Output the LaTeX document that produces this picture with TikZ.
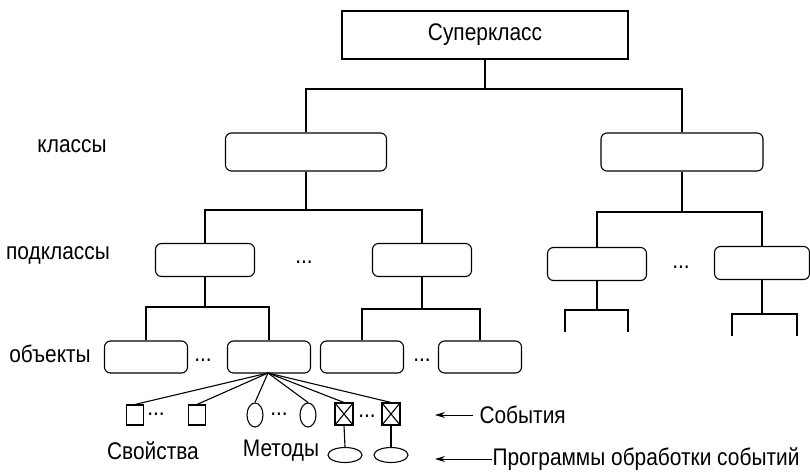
\documentclass[tikz,border=0pt]{standalone}
\usepackage{fontspec}
\setmainfont[FakeStretch=0.87]{Liberation Sans}
\usetikzlibrary{arrows.meta, positioning, shapes.geometric}
\tikzstyle{hier}=[x=1pt, y=-1pt, line width=1.1pt, font=\fontsize{24}{28}\selectfont, >={Stealth[length=10pt, width=6pt]}]
\tikzstyle{superbox}=[draw, rectangle, minimum width=286pt, minimum height=48pt, inner sep=0pt]
\tikzstyle{box}=[draw, rounded corners=6pt, minimum width=#1, minimum height=38pt, inner sep=0pt]
\tikzstyle{sbox}=[draw, rounded corners=6pt, minimum width=99pt, minimum height=33pt, inner sep=0pt]
\tikzstyle{obox}=[draw, rounded corners=6pt, minimum width=83pt, minimum height=32pt, inner sep=0pt]
\tikzstyle{prop}=[draw, rectangle, minimum width=17pt, minimum height=20pt, inner sep=0pt]
\tikzstyle{meth}=[draw, ellipse, minimum width=16pt, minimum height=24pt, inner sep=0pt]
\tikzstyle{event}=[draw, rectangle, minimum width=18pt, minimum height=22pt, inner sep=0pt,
  path picture={\draw (path picture bounding box.north west) -- (path picture bounding box.south east)
                      (path picture bounding box.north east) -- (path picture bounding box.south west);}]
\tikzstyle{handler}=[draw, ellipse, minimum width=34pt, minimum height=15pt, inner sep=0pt]
\tikzstyle{dots}=[inner sep=0pt]

\begin{document}
\begin{tikzpicture}[hier]
  \useasboundingbox (0,0) rectangle (810,471);

  \node[superbox] (sup) at (485,35) {Суперкласс};

  \node[box=161pt] (c1) at (306,152) {};
  \node[box=162pt] (c2) at (682,152) {};

  \node[sbox] (s1) at (205,260) {};
  \node[sbox] (s2) at (422,260) {};
  \node[sbox] (s3) at (597,264) {};
  \node[sbox, minimum width=95pt] (s4) at (762,263) {};

  \node[obox] (o1) at (146,357) {};
  \node[obox] (o2) at (269,357) {};
  \node[obox] (o3) at (362,357) {};
  \node[obox] (o4) at (480,357) {};

  \node[dots] (d1) at (304,262) {...};
  \node[dots] (d2) at (681,267) {...};
  \node[dots] (d3) at (203,360) {...};
  \node[dots] (d4) at (422,360) {...};

  \node[prop] (p1) at (135,415) {};
  \node[dots] (d5) at (156,414) {...};
  \node[prop] (p2) at (197,415) {};
  \node[meth] (m1) at (255,415) {};
  \node[dots] (d6) at (279,414) {...};
  \node[meth] (m2) at (308,415) {};
  \node[event] (e1) at (344,414) {};
  \node[dots] (d7) at (367,416) {...};
  \node[event] (e2) at (391,414) {};
  \node[handler] (h1) at (345,455) {};
  \node[handler] (h2) at (391,455) {};

  \node (lcls) at (72,146) {классы};
  \node (lsub) at (58,255) {подклассы};
  \node (lobj) at (50,354) {объекты};
  \node (lprop) at (153,451) {Свойства};
  \node (lmeth) at (281,451) {Методы};
  \node[anchor=west, inner sep=0pt] (levt) at (479,415) {События};
  \node[anchor=west, inner sep=0pt] (lhnd) at (492,459) {Программы обработки событий};

  \coordinate (j0) at (485,89);
  \coordinate (j1) at (306,210);
  \coordinate (j2) at (682,212);
  \coordinate (j3) at (205,307);
  \coordinate (j4) at (422,309);
  \coordinate (j5) at (597,310);
  \coordinate (j6) at (762,314);
  \coordinate (l1) at (565,332);
  \coordinate (l2) at (628,332);
  \coordinate (l3) at (732,336);
  \coordinate (l4) at (797,336);
  \coordinate (fan) at (268,373);
  \coordinate (tevt) at (435,415);
  \coordinate (thnd) at (435,459);

  \draw (sup.south) -- (j0);
  \draw (c1.north) |- (j0) -| (c2.north);
  \draw (c1.south) -- (j1);
  \draw (s1.north) |- (j1) -| (s2.north);
  \draw (c2.south) -- (j2);
  \draw (s3.north) |- (j2) -| (s4.north);
  \draw (s1.south) -- (j3);
  \draw (o1.north) |- (j3) -| (o2.north);
  \draw (s2.south) -- (j4);
  \draw (o3.north) |- (j4) -| (o4.north);
  \draw (s3.south) -- (j5);
  \draw (l1) |- (j5) -| (l2);
  \draw (s4.south) -- (j6);
  \draw (l3) |- (j6) -| (l4);

  \foreach \n in {p1,p2,m1,m2,e1,e2}
    \draw (fan) -- (\n.north);
  \draw (e1.south) -- (h1.north);
  \draw (e2.south) -- (h2.north);

  \draw[->, line width=0.9pt] (levt.west) ++(-6,0) -- (tevt);
  \draw[->, line width=0.9pt] (lhnd.west) -- (thnd);
\end{tikzpicture}
\end{document}
